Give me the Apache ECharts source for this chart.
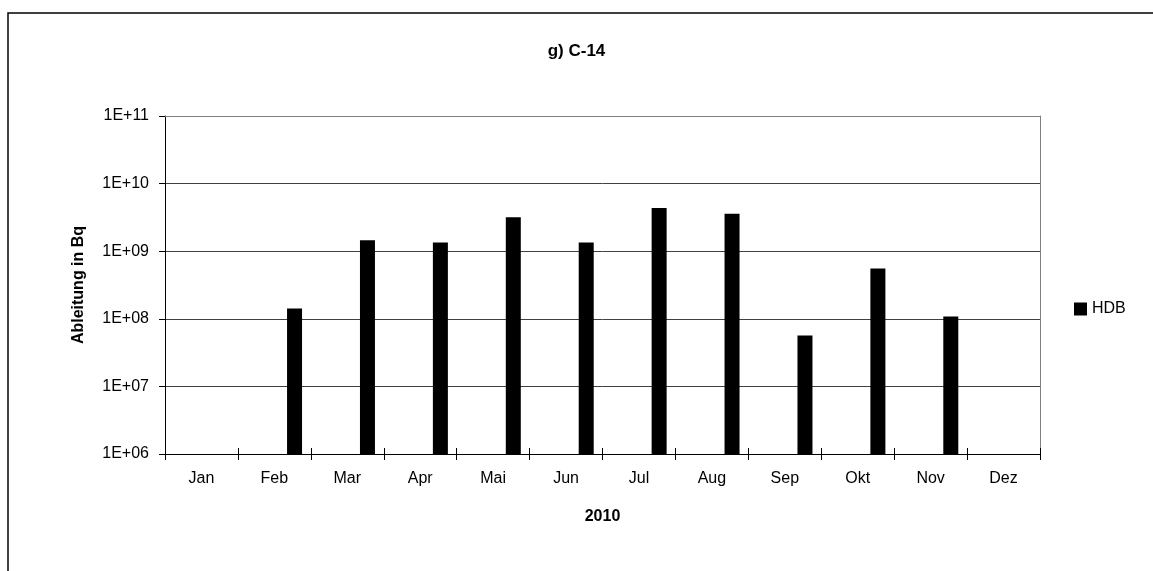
<!DOCTYPE html>
<html>
<head>
<meta charset="utf-8">
<script src="https://cdn.jsdelivr.net/npm/echarts@6/dist/echarts.min.js"></script>
<style>
html,body{margin:0;padding:0;background:#fff;}
#chart{width:1153px;height:571px;}
</style>
</head>
<body>
<div id="chart"></div>
<script>
const months = ['Jan','Feb','Mar','Apr','Mai','Jun','Jul','Aug','Sep','Okt','Nov','Dez'];
const hdb = [null, 1.42e8, 1.45e9, 1.35e9, 3.17e9, 1.35e9, 4.35e9, 3.59e9, 5.67e7, 5.53e8, 1.08e8, null];
const emptySeries = [null, null, null, null, null, null, null, null, null, null, null, null];
const yTicks = ['1E+06','1E+07','1E+08','1E+09','1E+10','1E+11'];

const FONT = 'Liberation Sans, Arial, sans-serif';
const chart = echarts.init(document.getElementById('chart'), null, {renderer:'canvas'});
const gridL = 165, gridR = 113, gridT = 116, gridB = 117;

chart.setOption({
  animation: false,
  backgroundColor: '#fff',
  textStyle: {fontFamily: FONT},
  title: {
    text: 'g) C-14', left: 'center', top: 38,
    textStyle: {fontFamily: FONT, fontSize: 17, fontWeight: 'bold', color: '#000'}
  },
  graphic: [{
    type: 'rect', shape: {x: 8, y: 13, width: 1300, height: 700},
    style: {fill: 'none', stroke: '#000', lineWidth: 1.5}, z: -1, silent: true
  }],
  legend: {
    data: ['HDB'], orient: 'vertical', left: 1069, top: 296,
    itemWidth: 13, itemHeight: 13, itemGap: 6,
    icon: 'rect',
    textStyle: {fontFamily: FONT, fontSize: 16, color: '#000'}
  },
  grid: {left: gridL, right: gridR, top: gridT, bottom: gridB, containLabel: false},
  xAxis: [{
    type: 'category', data: months, boundaryGap: true,
    axisLine: {lineStyle: {color: '#000', width: 1}},
    axisTick: {show: true, length: 6, inside: false, lineStyle: {color: '#000'}},
    axisLabel: {fontFamily: FONT, fontSize: 16, color: '#000', margin: 17},
    splitLine: {show: false},
    name: '2010', nameLocation: 'middle', nameGap: 55,
    nameTextStyle: {fontFamily: FONT, fontSize: 16, fontWeight: 'bold', color: '#000'}
  }, {
    type: 'category', data: months, position: 'bottom', boundaryGap: true,
    axisLine: {show: false},
    axisTick: {show: true, length: 6, inside: true, lineStyle: {color: '#000'}},
    axisLabel: {show: false}
  }, {
    type: 'category', data: months, position: 'top', boundaryGap: true,
    axisLine: {show: true, lineStyle: {color: '#808080', width: 1}},
    axisTick: {show: false}, axisLabel: {show: false}
  }],
  yAxis: [{
    type: 'log', logBase: 10, min: 1e6, max: 1e11,
    axisLine: {show: true, lineStyle: {color: '#000', width: 1}},
    axisTick: {show: true, length: 6, lineStyle: {color: '#000'}},
    minorTick: {show: false},
    axisLabel: {
      fontFamily: FONT, fontSize: 16, color: '#000', margin: 16,
      formatter: function (v) {
        const e = Math.round(Math.log10(v));
        return yTicks[e - 6];
      }
    },
    splitLine: {show: true, lineStyle: {color: '#404040', width: 1}},
    name: 'Ableitung in Bq', nameLocation: 'middle', nameGap: 78, nameRotate: 90,
    nameTextStyle: {fontFamily: FONT, fontSize: 16, fontWeight: 'bold', color: '#000'}
  }, {
    type: 'log', logBase: 10, min: 1e6, max: 1e11, position: 'right',
    axisLine: {show: true, lineStyle: {color: '#808080', width: 1}},
    axisTick: {show: false}, axisLabel: {show: false}, splitLine: {show: false}
  }],
  series: [{
    name: '', type: 'bar', data: emptySeries, barWidth: 15, barGap: '169%',
    itemStyle: {color: '#000'}, yAxisIndex: 0
  }, {
    name: 'HDB', type: 'bar', data: hdb, barWidth: 15, barGap: '169%',
    itemStyle: {color: '#000'}, yAxisIndex: 0
  }]
});
</script>
</body>
</html>
